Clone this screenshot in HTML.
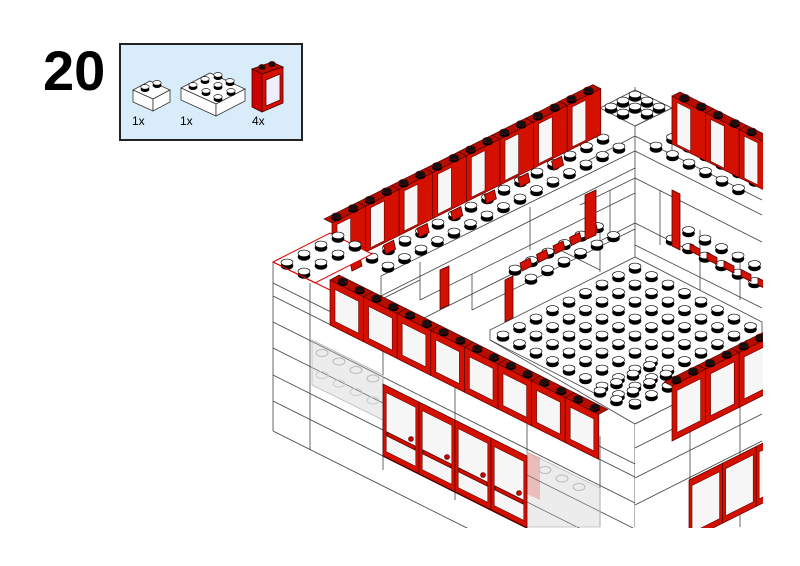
<!DOCTYPE html>
<html><head><meta charset="utf-8"><style>
html,body{margin:0;padding:0;background:#fff;width:800px;height:566px;overflow:hidden}
svg{display:block;overflow:hidden}
text{font-family:"Liberation Sans",sans-serif}
</style></head><body>
<svg id="s" width="800" height="566" viewBox="0 0 800 566" xmlns="http://www.w3.org/2000/svg">
<text x="43" y="90" font-size="56" font-weight="bold" fill="#000">20</text>
<rect x="120" y="44" width="182" height="96" fill="#d8ecfa" stroke="#222" stroke-width="2"/>
<text x="132" y="125" font-size="12">1x</text>
<text x="180" y="125" font-size="12">1x</text>
<text x="252" y="125" font-size="12">4x</text>
<g id="g"></g>
<rect x="763" y="0" width="37" height="566" fill="#fff"/>
<rect x="0" y="528" width="800" height="38" fill="#fff"/>
</svg>
<script>
const g=document.getElementById('g');const NS='http://www.w3.org/2000/svg';
function el(t,a){const e=document.createElementNS(NS,t);for(const k in a)e.setAttribute(k,a[k]);g.appendChild(e);return e;}
function poly(p,f,s,w){return el('polygon',{points:p.map(q=>q.join(',')).join(' '),fill:f,stroke:s||'none','stroke-width':w||0.8});}
function line(x1,y1,x2,y2,c,w){el('line',{x1,y1,x2,y2,stroke:c||'#444','stroke-width':w||0.8});}
function stud(x,y,r){r=r||1;el('ellipse',{cx:x,cy:y+1.8*r,rx:6.3*r,ry:4*r,fill:'#000'});el('ellipse',{cx:x,cy:y-1.6*r,rx:6*r,ry:3.3*r,fill:'#fff',stroke:'#000','stroke-width':0.6});}
function rstud(x,y,r){r=r||1;el('ellipse',{cx:x,cy:y+1.5*r,rx:6*r,ry:3.6*r,fill:'#000'});el('ellipse',{cx:x,cy:y-1.2*r,rx:5.5*r,ry:3.2*r,fill:'#111',stroke:'#600','stroke-width':0.8});}
const add=(p,v,k)=>[p[0]+v[0]*k,p[1]+v[1]*k];
function win(P,dir,dep,h,n,opts){opts=opts||{};
 for(let k=0;k<n;k++){const Q=add(P,dir,2*k);const R=add(Q,dir,2);
  if(!opts.nostud) poly([Q,R,add(R,dep,1),add(Q,dep,1)],'#b50e00','#400',0.6);
  poly([Q,R,[R[0],R[1]+h],[Q[0],Q[1]+h]],'#d41000','#500',0.7);
  const i=opts.inset||5;const a=add(Q,dir,i/16.8);const b=add(R,dir,-i/16.8*(opts.back?3:1));
  const t=opts.back?4:7;
  poly([[a[0],a[1]+t],[b[0],b[1]+t],[b[0],b[1]+h-(opts.back?2:6)],[a[0],a[1]+h-(opts.back?2:6)]],'#f6f6f6','#600',0.6);
  if(!opts.nostud){const c=add(Q,dep,0.5);stud2(add(c,dir,0.5));stud2(add(c,dir,1.5));}
 }}
function stud2(p){rstud(p[0],p[1],0.85);}

(function(){
 poly([[133,90],[150,81],[170,90],[153,99]],'#fff','#333');poly([[133,90],[153,99],[153,111],[133,102]],'#fff','#333');poly([[153,99],[170,90],[170,102],[153,111]],'#fff','#333');
 stud(145,88,0.7);stud(157,84,0.7);
 poly([[181,88],[210,73],[245,89],[216,104]],'#fff','#333');poly([[181,88],[216,104],[216,116],[181,100]],'#fff','#333');poly([[216,104],[245,89],[245,101],[216,116]],'#fff','#333');
 stud(193,86,0.7);stud(205,80,0.7);stud(218,76,0.7);stud(206,92,0.7);stud(218,86,0.7);stud(230,82,0.7);stud(218,98,0.7);stud(231,92,0.7);
 poly([[252,69],[272,62],[283,67],[262,74]],'#b50e00','#400');poly([[252,69],[262,74],[262,112],[252,107]],'#c00','#400');
 poly([[262,74],[283,67],[283,103],[262,112]],'#d41000','#400');poly([[266,80],[280,74],[280,100],[266,106]],'#eef','#600');
 rstud(262,67,0.55);rstud(272,64,0.55);
})();

const C='#444';
line(635,87,635,527,C);
poly([[600,108],[635,90],[672,108],[635,126]],'#fff','#444');
for(let i=0;i<3;i++)for(let j=0;j<3;j++){const p=[635+i*12-j*12,96+i*6+j*6];if(i<2||j<2)stud(p[0],p[1]);}
line(600,108,600,140,C);line(672,108,672,150,C);line(635,126,672,108,C);
line(580,165,635,136,C);line(635,136,762,200,C);line(635,151,762,215,C);
line(580,205,635,178,C);line(635,178,762,242,C);line(610,190,610,232,C);line(660,190,660,245,C);
line(635,223,600,241,C);line(635,223,762,287,C);line(635,245,762,308,C);line(700,230,700,290,C);line(740,255,740,300,C);
for(let i=0;i<6;i++)for(let j=0;j<2;j++){const p=[656+i*16.5+j*16.5,147+i*8.5-j*8.5];stud(p[0],p[1]);}
win([672,96],[16.8,8.4],[8,-4],48,3,{back:true});
for(let i=0;i<6;i++)for(let j=0;j<2;j++){const p=[672+i*16.5+j*16.5,240+i*8.5-j*8.5];stud(p[0],p[1]);}
poly([[672,190],[680,194],[680,250],[672,246]],'#d41000','#500');
for(let i=0;i<5;i++){poly([[690+i*17,244+i*8.5],[700+i*17,249+i*8.5],[700+i*17,256+i*8.5],[690+i*17,251+i*8.5]],'#d41000','#500');}

line(327,262,600,125,C);line(381,276,635,151,C);line(381,276,381,296,C);
line(381,296,635,168,C);line(420,262,420,300,C);line(530,207,530,250,C);
line(360,310,420,280,C);line(420,300,635,193,C);line(472,274,472,310,C);line(472,310,635,229,C);
line(420,320,560,250,C);line(560,250,600,270,C);line(420,320,480,350,C);
line(600,230,600,272,C);
for(let k=0;k<15;k++){stud(372+k*16.5,258-k*8.5);stud(388+k*16.5,267-k*8.5);}
win([332,223],[16.8,-8.4],[-8,-4],46,8,{back:true});
for(let k=0;k<7;k++){poly([[350+k*33.6,262-k*16.8],[360+k*33.6,257-k*16.8],[362+k*33.6,266-k*16.8],[352+k*33.6,271-k*16.8]],'#d41000','#500');}
for(let k=0;k<6;k++){stud(515+k*16.5,270-k*8.5);stud(531+k*16.5,279-k*8.5);}
for(let k=0;k<5;k++){poly([[520+k*16.5,263-k*8.5],[530+k*16.5,258-k*8.5],[532+k*16.5,266-k*8.5],[522+k*16.5,271-k*8.5]],'#d41000','#500');}
poly([[585,195],[596,190],[596,235],[585,240]],'#d41000','#500');
poly([[440,270],[449,266],[449,305],[440,309]],'#d41000','#500');
poly([[505,280],[513,276],[513,318],[505,322]],'#d41000','#500');

poly([[490,330],[635,257],[762,322],[762,360],[635,424],[490,340]],'#fff','#444');
line(490,340,600,396,C);
for(let i=0;i<9;i++)for(let j=0;j<9;j++){const x=635+i*16.5-j*16.5,y=268+i*8.5+j*8.5;if(x<766)stud(x,y);}

poly([[273,262],[330,233],[372,254],[315,283]],'#fff','#d00',1);
for(let i=0;i<2;i++)for(let j=0;j<4;j++){stud(287+i*17+j*17,264+i*9-j*9);}
line(273,262,273,431,C);
for(const y0 of [283,296,322,348,375,401,431]){line(273,y0,635,y0+181,C);}
line(273,262,330,290,'#d00',1);
line(310,283,310,450,C);line(383,338,383,470,C);line(455,380,455,500,C);line(527,400,527,527,C);line(600,436,600,527,C);
poly([[635,424],[762,360],[762,527],[635,527]],'#fff','none');
line(635,424,762,360,C);line(635,448,762,384,C);line(635,478,762,414,C);line(635,505,762,441,C);
line(690,420,690,527,C);line(740,395,740,527,C);
for(let i=0;i<2;i++)for(let j=0;j<4;j++){stud(600+i*16.5+j*16.5,392+i*8.5-j*8.5);}
poly([[312,340],[383,375],[383,420],[312,385]],'rgba(200,200,200,0.35)','#bbb');
for(let k=0;k<4;k++){el('ellipse',{cx:322+k*17,cy:353+k*8.5,rx:6,ry:3.5,fill:'none',stroke:'#bbb'});el('ellipse',{cx:322+k*17,cy:375+k*8.5,rx:6,ry:3.5,fill:'none',stroke:'#ccc'});}
poly([[527,452],[600,488],[600,527],[527,527]],'rgba(200,200,200,0.35)','#bbb');
poly([[527,452],[540,458],[540,500],[527,494]],'rgba(230,80,80,0.3)','none');
for(let k=0;k<3;k++){el('ellipse',{cx:545+k*17,cy:470+k*8.5,rx:6,ry:3.5,fill:'none',stroke:'#bbb'});}
win([330,280],[16.8,8.4],[9,-5],45,8,{});
win([383,384],[18,9],[0,0],72,4,{nostud:true,inset:3});
for(let k=0;k<4;k++){const x=383+k*36,y=384+k*18;poly([[x+4,y+48],[x+32,y+62],[x+32,y+66],[x+4,y+52]],'#d41000','#500');el('circle',{cx:x+28,cy:y+55,r:2.5,fill:'#c00',stroke:'#500','stroke-width':0.6});}
line(383,456,527,528,'#500',1.5);
win([672,386],[16.8,-8.4],[-8,-4],55,3,{});
win([689,480],[16.8,-8.4],[0,0],60,3,{nostud:true,inset:3});
</script>
</body></html>
